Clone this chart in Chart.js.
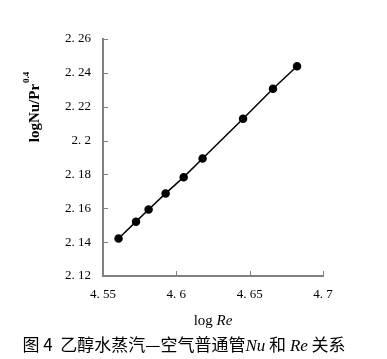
<!DOCTYPE html>
<html>
<head>
<meta charset="utf-8">
<script src="https://cdn.jsdelivr.net/npm/chart.js@4/dist/chart.umd.min.js"></script>
<style>
    html, body { margin: 0; padding: 0; background: #fff; }
    #wrap { width: 387px; height: 359px; }
</style>
</head>
<body>
<div id="wrap"><canvas id="id1" width="387" height="359"></canvas></div>
<script>
    // log Re vs log(Nu/Pr^0.4)
    var logRe = [4.5606, 4.5725, 4.5811, 4.5927, 4.6050, 4.6179, 4.6455, 4.6659, 4.6823];
    var logNuPr = [2.1422, 2.1521, 2.1593, 2.1688, 2.1784, 2.1894, 2.2129, 2.2306, 2.2439];

    var xTicks = [4.55, 4.6, 4.65, 4.7];
    var yTicks = [2.12, 2.14, 2.16, 2.18, 2.2, 2.22, 2.24, 2.26];

    var yTitle = ['logNu/Pr', '0.4'];
    var xTitle = [['log ', 'normal'], ['Re', 'italic']];
    var caption = [['图 4  乙醇水蒸汽—空气普通管', 'cjk'], ['Nu', 'it'], [' 和 ', 'cjk'], ['Re', 'it'], [' 关系', 'cjk']];

    var axisColor = '#808080';

    // the source font draws a wide dot, so "2.26" reads as "2. 26"
    function fmt(v) {
        return String(parseFloat(v.toFixed(2))).replace('.', '. ');
    }

    var points = logRe.map(function (x, i) { return { x: x, y: logNuPr[i] }; });

    // short tick marks pointing into the plot, plus the titles and caption
    var decor = {
        id: 'decor',
        afterDraw: function (chart) {
            var ctx = chart.ctx;
            var xs = chart.scales.x, ys = chart.scales.y;
            var area = chart.chartArea;

            ctx.save();
            ctx.strokeStyle = axisColor;
            ctx.lineWidth = 1;
            ys.ticks.forEach(function (t) {
                var py = Math.round(ys.getPixelForValue(t.value)) + 0.5;
                ctx.beginPath();
                ctx.moveTo(area.left, py);
                ctx.lineTo(area.left + 5, py);
                ctx.stroke();
            });
            xs.ticks.forEach(function (t) {
                var px = Math.round(xs.getPixelForValue(t.value)) + 0.5;
                ctx.beginPath();
                ctx.moveTo(px, area.bottom);
                ctx.lineTo(px, area.bottom - 5);
                ctx.stroke();
            });

            ctx.fillStyle = '#000';
            ctx.textBaseline = 'alphabetic';

            // y title, rotated, with superscript
            ctx.save();
            ctx.translate(39, 107.5);
            ctx.rotate(-Math.PI / 2);
            ctx.font = 'bold 15px "Liberation Serif"';
            var w1 = ctx.measureText(yTitle[0]).width;
            ctx.font = 'bold 9px "Liberation Serif"';
            var w2 = ctx.measureText(yTitle[1]).width;
            var sx = -(w1 + w2) / 2;
            ctx.font = 'bold 15px "Liberation Serif"';
            ctx.fillText(yTitle[0], sx, 0);
            ctx.font = 'bold 9px "Liberation Serif"';
            ctx.fillText(yTitle[1], sx + w1 + 1, -10);
            ctx.restore();

            // x title
            drawRow(ctx, xTitle.map(function (s) {
                return [s[0], (s[1] === 'italic' ? 'italic ' : '') + '15px "Liberation Serif"'];
            }), 213, 325);

            // caption
            drawRow(ctx, caption.map(function (s) {
                return [s[0], s[1] === 'it' ? 'italic 17px "Liberation Serif"' : '17px "Noto Sans CJK SC"'];
            }), 184, 351);

            ctx.restore();
        }
    };

    function drawRow(ctx, segs, cx, y) {
        var total = 0;
        segs.forEach(function (s) { ctx.font = s[1]; total += ctx.measureText(s[0]).width; });
        var x = cx - total / 2;
        ctx.textAlign = 'left';
        segs.forEach(function (s) {
            ctx.font = s[1];
            ctx.fillText(s[0], x, y);
            x += ctx.measureText(s[0]).width;
        });
    }

    var ctxD = document.getElementById('id1').getContext('2d');
    var myChart = new Chart(ctxD, {
        type: 'scatter',
        data: {
            datasets: [{
                data: points,
                showLine: true,
                borderColor: '#000',
                borderWidth: 1.5,
                backgroundColor: '#000',
                pointBackgroundColor: '#000',
                pointBorderColor: '#000',
                pointRadius: 3.5,
                pointHoverRadius: 3.5
            }]
        },
        options: {
            responsive: false,
            animation: false,
            events: [],
            layout: { padding: { left: 0, top: 39, right: 64, bottom: 0 } },
            plugins: {
                legend: { display: false },
                tooltip: { enabled: false }
            },
            scales: {
                x: {
                    type: 'linear',
                    min: 4.55,
                    max: 4.7,
                    afterFit: function (s) { s.height = 83; },
                    afterBuildTicks: function (s) { s.ticks = xTicks.map(function (v) { return { value: v }; }); },
                    grid: { display: false, drawTicks: false },
                    border: { display: true, color: axisColor, width: 2 },
                    ticks: {
                        padding: 11,
                        color: '#000',
                        maxRotation: 0,
                        font: { family: '"Liberation Serif"', size: 13 },
                        callback: function (v) { return fmt(v); }
                    }
                },
                y: {
                    type: 'linear',
                    min: 2.12,
                    max: 2.26,
                    afterFit: function (s) { s.width = 103; },
                    afterBuildTicks: function (s) { s.ticks = yTicks.map(function (v) { return { value: v }; }); },
                    grid: { display: false, drawTicks: false },
                    border: { display: true, color: axisColor, width: 2 },
                    ticks: {
                        padding: 12,
                        color: '#000',
                        font: { family: '"Liberation Serif"', size: 13 },
                        callback: function (v) { return fmt(v); }
                    }
                }
            }
        },
        plugins: [decor]
    });
</script>
</body>
</html>
